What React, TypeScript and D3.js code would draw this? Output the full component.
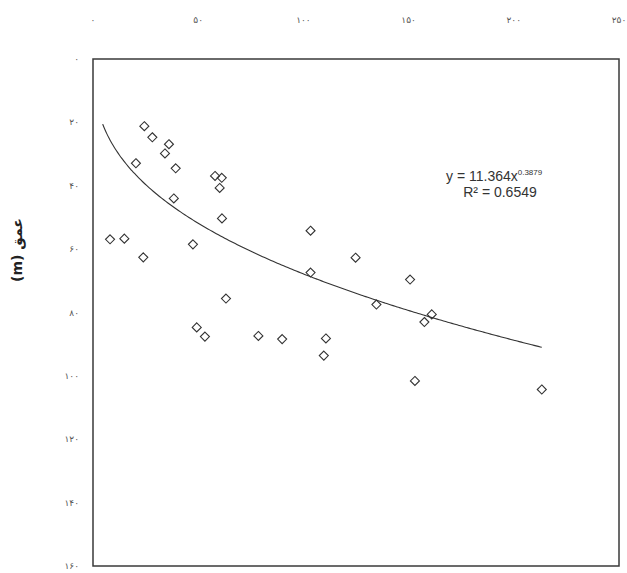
import React from "react";
import * as d3 from "d3";

// distance (top axis) vs depth (left axis, increasing downward)
const xTicks = [0, 50, 100, 150, 200, 250];
const yTicks = [0, 20, 40, 60, 80, 100, 120, 140, 160];

const distance = [
  24.4, 28.2, 36.1, 34.2, 20.4, 39.3, 58.0, 61.2, 60.2, 38.4, 61.3, 8.1, 14.9,
  103.4, 23.9, 47.5, 124.8, 103.4, 150.7, 63.2, 134.7, 161.0, 157.5, 49.3, 53.2,
  78.6, 89.9, 110.7, 109.7, 153.0, 213.3,
];
const depth = [
  21.2, 24.7, 26.9, 29.8, 32.9, 34.5, 36.9, 37.5, 40.7, 44.0, 50.3, 56.9, 56.7,
  54.2, 62.6, 58.5, 62.7, 67.4, 69.6, 75.6, 77.5, 80.6, 83.0, 84.7, 87.6, 87.4,
  88.4, 88.2, 93.6, 101.6, 104.3,
];

// power trendline as printed on the chart
const fitA = 11.364;
const fitB = 0.3879;
const fitLabel = "y = 11.364x";
const fitExpLabel = "0.3879";
const r2Label = "R² = 0.6549";
const fitFrom = 4.6;
const fitTo = 213.3;

const yTitle = "عمق (m)";

const fa = (n: number) =>
  String(n).replace(/[0-9]/g, (d) => "۰۱۲۳۴۵۶۷۸۹"[+d]);

const W = 627;
const H = 573;

export default function App() {
  const x = d3.scaleLinear().domain([0, 250]).range([93, 619]);
  const y = d3.scaleLinear().domain([0, 160]).range([59, 566]);

  const points = distance.map((d, i) => ({ x: d, y: depth[i] }));

  const curve = d3
    .line<number>()
    .x((d) => x(d))
    .y((d) => y(fitA * Math.pow(d, fitB)))
    .curve(d3.curveMonotoneX);
  const fitXs = d3.range(fitFrom, fitTo, 1).concat([fitTo]);

  const marker = d3.symbol().type(d3.symbolDiamond2).size(52)();

  return (
    <svg
      width={W}
      height={H}
      style={{ position: "absolute", left: 0, top: 0, background: "#fff" }}
    >
      {/* plot frame */}
      <rect
        x={x(0)}
        y={y(0)}
        width={x(250) - x(0)}
        height={y(160) - y(0)}
        fill="none"
        stroke="#3a3a3a"
        strokeWidth={1.5}
      />

      {/* top axis labels */}
      {xTicks.map((t) => (
        <text
          key={"x" + t}
          x={x(t)}
          y={23}
          textAnchor="middle"
          fontFamily="DejaVu Sans"
          fontSize={9}
          fill="#555"
        >
          {fa(t)}
        </text>
      ))}

      {/* left axis labels */}
      {yTicks.map((t) => (
        <text
          key={"y" + t}
          x={79}
          y={y(t) + 3}
          textAnchor="end"
          fontFamily="DejaVu Sans"
          fontSize={9}
          fill="#555"
        >
          {fa(t)}
        </text>
      ))}

      <text
        transform={`translate(22,${250}) rotate(-90)`}
        textAnchor="middle"
        direction="rtl"
        fontFamily="DejaVu Sans"
        fontWeight="bold"
        fontSize={14}
        fill="#222"
      >
        {yTitle}
      </text>

      {/* trendline */}
      <path d={curve(fitXs) ?? ""} fill="none" stroke="#333" strokeWidth={1.1} />

      {/* observations */}
      {points.map((p, i) => (
        <path
          key={i}
          d={marker ?? ""}
          transform={`translate(${x(p.x)},${y(p.y)})`}
          fill="none"
          stroke="#333"
          strokeWidth={1.1}
        />
      ))}

      {/* equation */}
      <text
        x={446}
        y={181}
        fontFamily="Liberation Sans"
        fontSize={14}
        fill="#333"
      >
        {fitLabel}
        <tspan dy={-6} fontSize={8}>
          {fitExpLabel}
        </tspan>
      </text>
      <text
        x={500}
        y={197}
        textAnchor="middle"
        fontFamily="Liberation Sans"
        fontSize={14}
        fill="#333"
      >
        {r2Label}
      </text>
    </svg>
  );
}
